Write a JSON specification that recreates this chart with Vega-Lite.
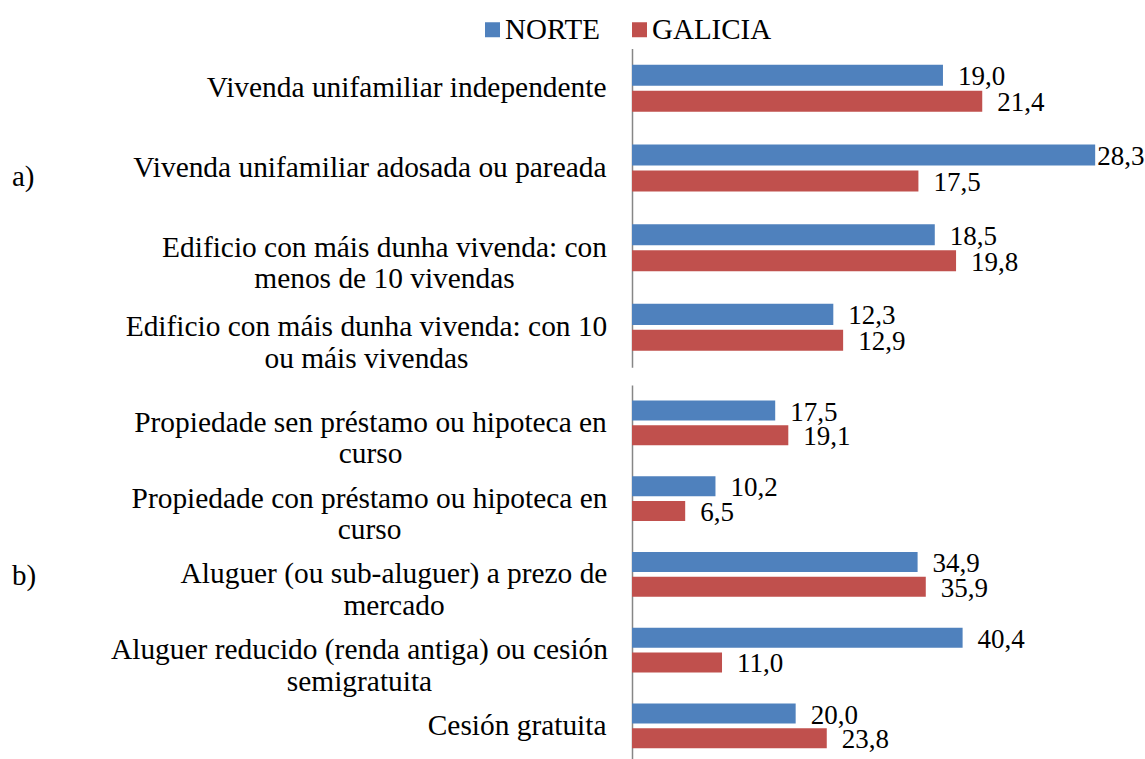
{
  "$schema": "https://vega.github.io/schema/vega-lite/v6.json",
  "padding": {"left": 11, "top": 14.5, "right": 0, "bottom": 0},
  "background": "white",
  "config": {
    "font": "Times New Roman, Liberation Serif, DejaVu Serif, serif",
    "view": {"stroke": null},
    "locale": {"number": {"decimal": ",", "thousands": ".", "grouping": [3], "currency": ["", " €"]}}
  },
  "datasets": {
    "a": [
      {"cat": "Vivenda unifamiliar independente", "region": "NORTE", "value": 19.0},
      {"cat": "Vivenda unifamiliar independente", "region": "GALICIA", "value": 21.4},
      {"cat": "Vivenda unifamiliar adosada ou pareada", "region": "NORTE", "value": 28.3},
      {"cat": "Vivenda unifamiliar adosada ou pareada", "region": "GALICIA", "value": 17.5},
      {"cat": "Edificio con máis dunha vivenda: con|menos de 10 vivendas", "region": "NORTE", "value": 18.5},
      {"cat": "Edificio con máis dunha vivenda: con|menos de 10 vivendas", "region": "GALICIA", "value": 19.8},
      {"cat": "Edificio con máis dunha vivenda: con 10|ou máis vivendas", "region": "NORTE", "value": 12.3},
      {"cat": "Edificio con máis dunha vivenda: con 10|ou máis vivendas", "region": "GALICIA", "value": 12.9}
    ],
    "b": [
      {"cat": "Propiedade sen préstamo ou hipoteca en|curso", "region": "NORTE", "value": 17.5},
      {"cat": "Propiedade sen préstamo ou hipoteca en|curso", "region": "GALICIA", "value": 19.1},
      {"cat": "Propiedade con préstamo ou hipoteca en|curso", "region": "NORTE", "value": 10.2},
      {"cat": "Propiedade con préstamo ou hipoteca en|curso", "region": "GALICIA", "value": 6.5},
      {"cat": "Aluguer (ou sub-aluguer) a prezo de|mercado", "region": "NORTE", "value": 34.9},
      {"cat": "Aluguer (ou sub-aluguer) a prezo de|mercado", "region": "GALICIA", "value": 35.9},
      {"cat": "Aluguer reducido (renda antiga) ou cesión|semigratuita", "region": "NORTE", "value": 40.4},
      {"cat": "Aluguer reducido (renda antiga) ou cesión|semigratuita", "region": "GALICIA", "value": 11.0},
      {"cat": "Cesión gratuita", "region": "NORTE", "value": 20.0},
      {"cat": "Cesión gratuita", "region": "GALICIA", "value": 23.8}
    ]
  },
  "spacing": 11.5,
  "resolve": {"scale": {"x": "independent", "y": "independent", "yOffset": "independent", "color": "shared"}},
  "vconcat": [
    {
      "width": 491,
      "height": 318.7,
      "data": {"name": "a"},
      "encoding": {
        "y": {
          "field": "cat", "type": "nominal", "sort": null,
          "scale": {"paddingInner": 0.41, "paddingOuter": 0.205},
          "axis": {
            "title": "a)", "titleAngle": 0, "titleAlign": "left", "titleBaseline": "alphabetic",
            "titleX": -620.5, "titleY": 137, "titleFontSize": 29, "titleFontWeight": "normal", "titleColor": "black",
            "ticks": false, "tickSize": 0, "domainColor": "#868686", "domainWidth": 1.5,
            "labelFontSize": 29.4, "labelColor": "black", "labelLimit": 0, "labelLineHeight": 31.6,
            "labelExpr": "split(datum.label, '|')",
            "labelAlign": {"condition": {"test": "indexof(datum.value, '|') >= 0", "value": "center"}, "value": "right"},
            "labelPadding": {"condition": [
              {"test": "indexof(datum.value, 'menos de 10') >= 0", "value": 248},
              {"test": "indexof(datum.value, 'ou máis vivendas') >= 0", "value": 266}
            ], "value": 26}
          }
        },
        "yOffset": {"field": "region", "type": "nominal", "sort": ["NORTE", "GALICIA"], "scale": {"paddingInner": 0.19, "paddingOuter": 0}},
        "x": {"field": "value", "type": "quantitative", "scale": {"domain": [0, 30]}, "axis": null}
      },
      "layer": [
        {
          "mark": {"type": "bar"},
          "encoding": {
            "color": {
              "field": "region", "type": "nominal", "sort": ["NORTE", "GALICIA"],
              "scale": {"domain": ["NORTE", "GALICIA"], "range": ["#4F81BD", "#C0504D"]},
              "legend": {"orient": "none", "legendX": -154, "legendY": -33.5, "direction": "horizontal", "title": null,
                "labelFontSize": 29, "labelColor": "black", "symbolType": "square", "symbolSize": 225,
                "symbolStrokeWidth": 0, "labelOffset": -2, "columnPadding": 25, "padding": 0}
            }
          }
        },
        {
          "transform": [{"filter": "datum.value < 28"}],
          "mark": {"type": "text", "align": "left", "baseline": "middle", "dx": 15, "dy": 2, "fontSize": 27, "color": "black"},
          "encoding": {"text": {"field": "value", "type": "quantitative", "format": ".1f"}}
        },
        {
          "transform": [{"filter": "datum.value >= 28"}],
          "mark": {"type": "text", "align": "left", "baseline": "middle", "dx": 2, "dy": 2, "fontSize": 27, "color": "black"},
          "encoding": {"text": {"field": "value", "type": "quantitative", "format": ".1f"}}
        }
      ]
    },
    {
      "width": 491,
      "height": 378.75,
      "data": {"name": "b"},
      "encoding": {
        "y": {
          "field": "cat", "type": "nominal", "sort": null,
          "scale": {"paddingInner": 0.41, "paddingOuter": 0.205},
          "axis": {
            "title": "b)", "titleAngle": 0, "titleAlign": "left", "titleBaseline": "alphabetic",
            "titleX": -620.5, "titleY": 199.4, "titleFontSize": 29, "titleFontWeight": "normal", "titleColor": "black",
            "ticks": false, "tickSize": 0, "domainColor": "#868686", "domainWidth": 1.5,
            "labelFontSize": 29.4, "labelColor": "black", "labelLimit": 0, "labelLineHeight": 31.6,
            "labelExpr": "split(datum.label, '|')",
            "labelAlign": {"condition": {"test": "indexof(datum.value, '|') >= 0", "value": "center"}, "value": "right"},
            "labelPadding": {"condition": [
              {"test": "indexof(datum.value, 'Propiedade sen') >= 0", "value": 262},
              {"test": "indexof(datum.value, 'Propiedade con') >= 0", "value": 263},
              {"test": "indexof(datum.value, 'sub-aluguer') >= 0", "value": 238.5},
              {"test": "indexof(datum.value, 'semigratuita') >= 0", "value": 273}
            ], "value": 26}
          }
        },
        "yOffset": {"field": "region", "type": "nominal", "sort": ["NORTE", "GALICIA"], "scale": {"paddingInner": 0.19, "paddingOuter": 0}},
        "x": {"field": "value", "type": "quantitative", "scale": {"domain": [0, 60]}, "axis": null}
      },
      "layer": [
        {
          "mark": {"type": "bar"},
          "encoding": {
            "color": {
              "field": "region", "type": "nominal", "sort": ["NORTE", "GALICIA"],
              "scale": {"domain": ["NORTE", "GALICIA"], "range": ["#4F81BD", "#C0504D"]},
              "legend": {"orient": "none", "legendX": -154, "legendY": -33.5, "direction": "horizontal", "title": null,
                "labelFontSize": 29, "labelColor": "black", "symbolType": "square", "symbolSize": 225,
                "symbolStrokeWidth": 0, "labelOffset": -2, "columnPadding": 25, "padding": 0}
            }
          }
        },
        {
          "mark": {"type": "text", "align": "left", "baseline": "middle", "dx": 15, "dy": 2, "fontSize": 27, "color": "black"},
          "encoding": {"text": {"field": "value", "type": "quantitative", "format": ".1f"}}
        }
      ]
    }
  ]
}
